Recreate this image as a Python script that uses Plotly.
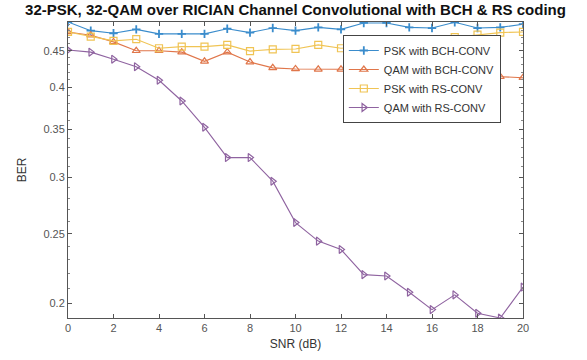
import numpy as np
import plotly.graph_objects as go

snr = list(range(0, 21))
psk_bch = [0.4935, 0.480, 0.476, 0.482, 0.475, 0.475, 0.475, 0.483, 0.477, 0.484, 0.480,
           0.485, 0.482, 0.492, 0.492, 0.485, 0.484, 0.493, 0.484, 0.485, 0.490]
qam_bch = [0.478, 0.473, 0.463, 0.450, 0.450, 0.448, 0.435, 0.448, 0.434, 0.426, 0.4245,
           0.424, 0.424, 0.422, 0.420, 0.419, 0.418, 0.416, 0.415, 0.414, 0.4127]
psk_rs = [0.478, 0.471, 0.4645, 0.467, 0.4536, 0.456, 0.456, 0.4585, 0.4495, 0.452, 0.4526,
          0.4585, 0.4536, 0.456, 0.459, 0.462, 0.466, 0.470, 0.474, 0.477, 0.478]
qam_rs = [0.451, 0.448, 0.438, 0.4276, 0.4094, 0.383, 0.352, 0.3194, 0.3194, 0.2961, 0.2593,
          0.2443, 0.2378, 0.2194, 0.2184, 0.2073, 0.1961, 0.2056, 0.1938, 0.1909, 0.2108]

names = ["PSK with BCH-CONV", "QAM with BCH-CONV", "PSK with RS-CONV", "QAM with RS-CONV"]
colors = ["#3a8ccc", "#e0764a", "#f0c454", "#8f63a0"]
symbols = ["cross-thin-open", "triangle-up-open", "square-open", "triangle-right-open"]
series = [psk_bch, qam_bch, psk_rs, qam_rs]

ytickvals = [0.2, 0.25, 0.3, 0.35, 0.4, 0.45]
yticktext = ["0.2", "0.25", "0.3", "0.35", "0.4", "0.45"]
xtickvals = list(range(0, 21, 2))

fig = go.Figure()
for name, col, sym, vals in zip(names, colors, symbols, series):
    is_cross = sym == "cross-thin-open"
    fig.add_trace(go.Scatter(
        x=snr, y=vals, name=name, mode="lines+markers",
        line=dict(color=col, width=1.1),
        marker=dict(symbol=sym, size=6 if is_cross else 7,
                    color=col, line=dict(color=col, width=1.8 if is_cross else 1.2)),
    ))

allv = [v for s in series for v in s]
ymin, ymax = min(allv), max(allv)

axis_line = "#555555"
fig.update_layout(
    width=587, height=360,
    margin=dict(l=68, r=64, t=22, b=42),
    paper_bgcolor="white", plot_bgcolor="white",
    font=dict(family="Liberation Sans, Arial, sans-serif", size=11, color="#555555"),
    title=dict(text="<b>32-PSK, 32-QAM over RICIAN Channel Convolutional with BCH & RS coding</b>",
               x=0.5, xref="paper", xanchor="center", y=1 - 10 / 360, yref="container",
               yanchor="middle", font=dict(size=15, color="#111111")),
    showlegend=True,
    legend=dict(x=0.604, y=0.956, xanchor="left", yanchor="top",
                bgcolor="white", bordercolor="#444444", borderwidth=1,
                font=dict(size=11, color="#333333"), tracegroupgap=0,
                itemwidth=30),
    xaxis=dict(range=[0, 20], tickvals=xtickvals, ticks="inside", ticklen=4,
               tickcolor=axis_line, showline=True, linecolor=axis_line, linewidth=1,
               mirror="ticks", showgrid=False, zeroline=False,
               title=dict(text="SNR (dB)", font=dict(size=12, color="#333333"), standoff=6)),
    yaxis=dict(type="log", range=[np.log10(ymin), np.log10(ymax)],
               tickvals=ytickvals, ticktext=yticktext, ticks="inside", ticklen=4,
               tickcolor=axis_line, showline=True, linecolor=axis_line, linewidth=1,
               mirror="ticks", showgrid=False, zeroline=False,
               minor=dict(tickvals=[round(0.19 + 0.01 * i, 2) for i in range(31)],
                          ticks="inside", ticklen=2, tickcolor="#888888"),
               title=dict(text="BER", font=dict(size=12, color="#333333"), standoff=14)),
)

fig.write_html("out.html")
